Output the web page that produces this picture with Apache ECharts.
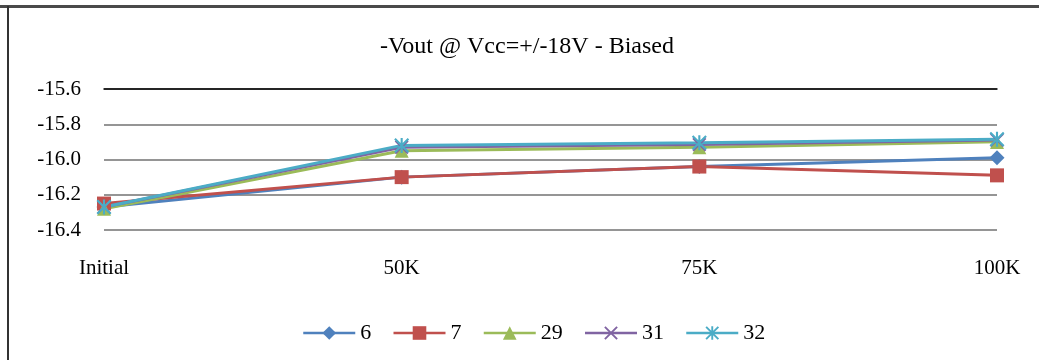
<!DOCTYPE html>
<html>
<head>
<meta charset="utf-8">
<script src="https://cdn.jsdelivr.net/npm/echarts@6/dist/echarts.min.js"></script>
<style>
  html, body { margin: 0; padding: 0; background: #fff; }
  #chart { width: 1039px; height: 360px; }
</style>
</head>
<body>
<div id="chart"></div>
<script>
// Stress steps along the x axis
const categories = ['Initial', '50K', '75K', '100K'];

// -Vout readings (V) per device
const seriesNames = ['6', '7', '29', '31', '32'];
const vout6  = [-16.27, -16.10, -16.04, -15.99];
const vout7  = [-16.25, -16.10, -16.04, -16.09];
const vout29 = [-16.28, -15.95, -15.93, -15.90];
const vout31 = [-16.27, -15.93, -15.915, -15.89];
const vout32 = [-16.27, -15.92, -15.905, -15.885];

// Value axis range and step
const yMin = -16.4;
const yMax = -15.6;
const yStep = 0.2;

const FONT = '"Liberation Serif", "Times New Roman", serif';
const colors = ['#4F81BD', '#C0504D', '#9BBB59', '#8064A2', '#4BACC6'];

// Cross and asterisk markers built from thin bars
const xMark = 'path://M2,0 L20,18 L18,20 L0,2 Z M18,0 L20,2 L2,20 L0,18 Z';
const starMark = 'path://M2,0 L20,18 L18,20 L0,2 Z M18,0 L20,2 L2,20 L0,18 Z M8.6,0 L11.4,0 L11.4,20 L8.6,20 Z';
const symbols = ['diamond', 'rect', 'triangle', xMark, starMark];
const symbolSizes = [15, 14, 14, 14, 15];

const values = [vout6, vout7, vout29, vout31, vout32];

const chart = echarts.init(document.getElementById('chart'), null, { renderer: 'canvas' });

chart.setOption({
  animation: false,
  color: colors,
  title: {
    text: '-Vout @ Vcc=+/-18V - Biased',
    left: 375,
    top: 30,
    textStyle: { fontFamily: FONT, fontSize: 24, fontWeight: 'normal', color: '#000' }
  },
  legend: {
    left: 297,
    top: 317,
    itemWidth: 52,
    itemHeight: 17,
    itemGap: 21,
    data: seriesNames,
    lineStyle: { width: 2.5 },
    textStyle: { fontFamily: FONT, fontSize: 22, color: '#000' }
  },
  grid: { left: 104, right: 42, top: 89, bottom: 130, containLabel: false },
  xAxis: [
    {
      type: 'category',
      data: categories,
      boundaryGap: false,
      position: 'bottom',
      axisLine: { show: false },
      axisTick: { show: false },
      axisLabel: { margin: 28, fontFamily: FONT, fontSize: 21, color: '#000' },
      splitLine: { show: false }
    },
    {
      type: 'category',
      data: categories,
      boundaryGap: false,
      position: 'top',
      axisLine: { show: true, lineStyle: { color: '#000', width: 1.5 } },
      axisTick: { show: false },
      axisLabel: { show: false },
      splitLine: { show: false }
    }
  ],
  yAxis: {
    type: 'value',
    min: yMin,
    max: yMax,
    interval: yStep,
    axisLine: { show: false },
    axisTick: { show: false },
    axisLabel: {
      margin: 23,
      fontFamily: FONT,
      fontSize: 21,
      color: '#000',
      formatter: v => v.toFixed(1)
    },
    splitLine: { show: true, lineStyle: { color: '#959595', width: 2 } }
  },
  graphic: [
    { type: 'rect', shape: { x: 0, y: 5, width: 1039, height: 3 }, style: { fill: '#4a4a4a' }, silent: true },
    { type: 'rect', shape: { x: 7, y: 6, width: 2, height: 354 }, style: { fill: '#333' }, silent: true }
  ],
  series: seriesNames.map((name, i) => ({
    name: name,
    type: 'line',
    xAxisIndex: 0,
    data: values[i],
    symbol: symbols[i],
    symbolSize: symbolSizes[i],
    showAllSymbol: true,
    lineStyle: { width: 3, color: colors[i] },
    itemStyle: { color: colors[i], borderWidth: 0 },
    emphasis: { disabled: true }
  }))
});
</script>
</body>
</html>
